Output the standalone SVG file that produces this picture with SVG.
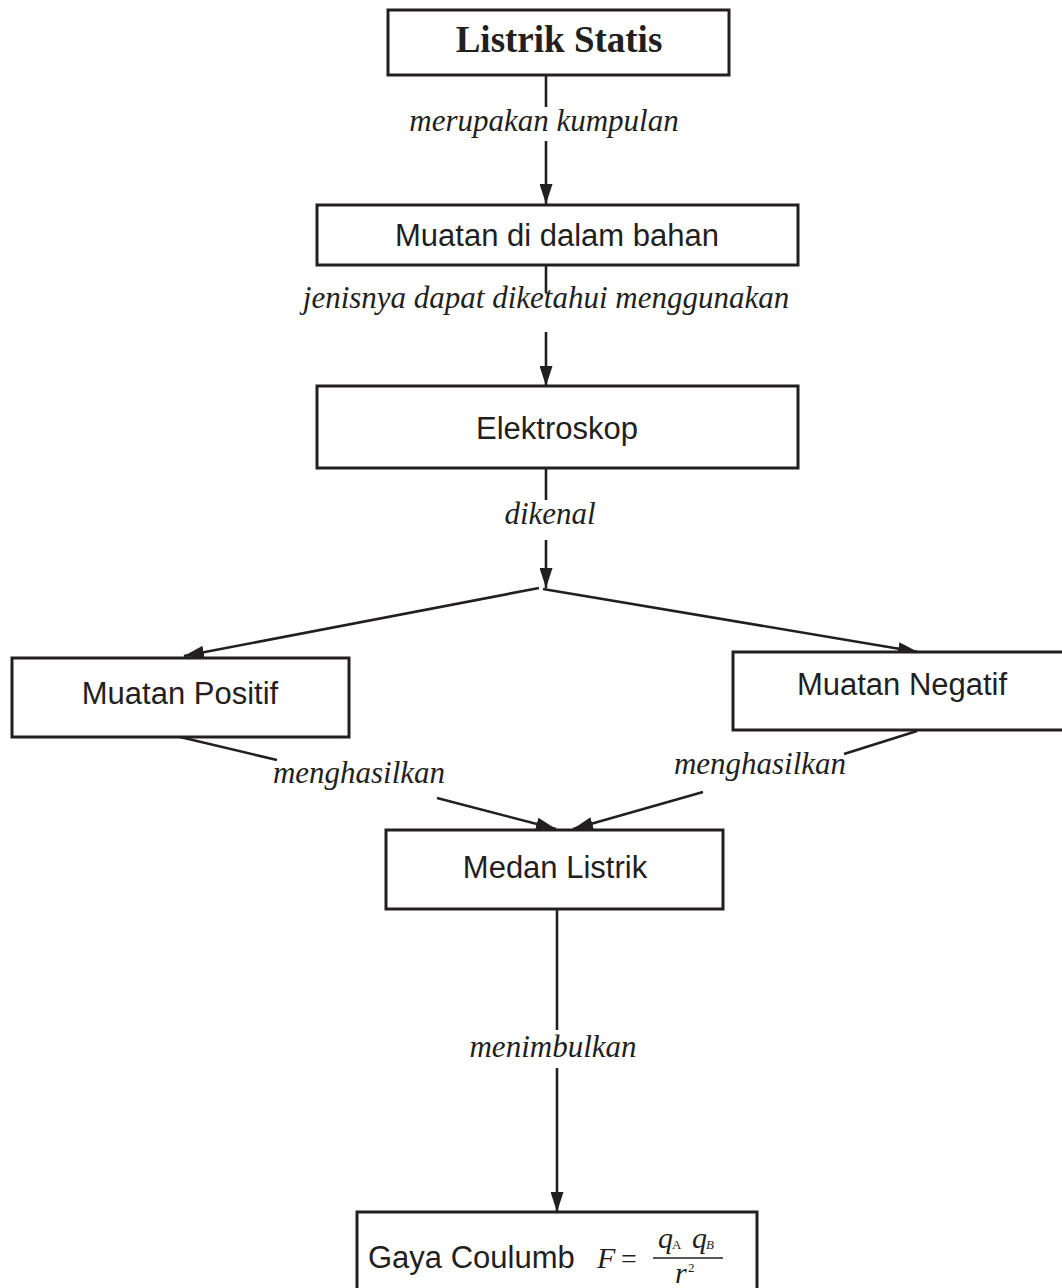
<svg xmlns="http://www.w3.org/2000/svg" width="1062" height="1288" viewBox="0 0 1062 1288">
<style>
.box{fill:#fff;stroke:#231f20;stroke-width:3}
.ln{fill:none;stroke:#231f20;stroke-width:2.6}
.t{font-family:"Liberation Sans",Arial,sans-serif;font-size:31px;fill:#231f20;text-anchor:middle}
.lb{font-family:"Liberation Serif","Times New Roman",serif;font-style:italic;font-size:31px;fill:#231f20;text-anchor:middle}
.ti{font-family:"Liberation Serif","Times New Roman",serif;font-weight:bold;font-size:37px;fill:#231f20;text-anchor:middle}
.m{font-family:"Liberation Serif","Times New Roman",serif;font-style:italic;fill:#231f20}
</style>
<defs>
<marker id="ah" markerWidth="20" markerHeight="13" refX="20" refY="6.5" orient="auto" markerUnits="userSpaceOnUse">
<path d="M0,0 L20,6.5 L0,13 Z" fill="#231f20"/>
</marker>
</defs>
<rect width="1062" height="1288" fill="#fff"/>
<g id="connectors">
<line class="ln" x1="546" y1="75" x2="546" y2="107"/>
<line class="ln" x1="546" y1="141" x2="546" y2="204" marker-end="url(#ah)"/>
<line class="ln" x1="546" y1="265" x2="546" y2="293"/>
<line class="ln" x1="546" y1="332" x2="546" y2="386" marker-end="url(#ah)"/>
<line class="ln" x1="546" y1="468" x2="546" y2="500"/>
<line class="ln" x1="546" y1="540" x2="546" y2="588" marker-end="url(#ah)"/>
<line class="ln" x1="539" y1="588" x2="184" y2="656" marker-end="url(#ah)"/>
<line class="ln" x1="543" y1="589" x2="918" y2="652" marker-end="url(#ah)"/>
<line class="ln" x1="180" y1="737" x2="277" y2="760"/>
<line class="ln" x1="437" y1="798" x2="556" y2="829" marker-end="url(#ah)"/>
<line class="ln" x1="917" y1="731" x2="844" y2="754"/>
<line class="ln" x1="703" y1="792" x2="573" y2="829" marker-end="url(#ah)"/>
<line class="ln" x1="557" y1="909" x2="557" y2="1030"/>
<line class="ln" x1="557" y1="1068" x2="557" y2="1212" marker-end="url(#ah)"/>
<text class="lb" x="544" y="131">merupakan kumpulan</text>
<text class="lb" x="546" y="308">jenisnya dapat diketahui menggunakan</text>
<text class="lb" x="550" y="524">dikenal</text>
<text class="lb" x="359" y="783">menghasilkan</text>
<text class="lb" x="760" y="774">menghasilkan</text>
<text class="lb" x="553" y="1057">menimbulkan</text>
</g>
<g id="listrik-statis">
<rect class="box" x="388" y="10" width="341" height="65"/>
<text class="ti" x="559" y="52">Listrik Statis</text>
</g>
<g id="muatan-bahan">
<rect class="box" x="317" y="205" width="481" height="60"/>
<text class="t" x="557" y="246">Muatan di dalam bahan</text>
</g>
<g id="elektroskop">
<rect class="box" x="317" y="386" width="481" height="82"/>
<text class="t" x="557" y="439">Elektroskop</text>
</g>
<g id="muatan-positif">
<rect class="box" x="12" y="658" width="337" height="79"/>
<text class="t" x="180" y="704">Muatan Positif</text>
</g>
<g id="muatan-negatif">
<rect class="box" x="733" y="652" width="340" height="78"/>
<text class="t" x="902" y="695">Muatan Negatif</text>
</g>
<g id="medan-listrik">
<rect class="box" x="386" y="830" width="337" height="79"/>
<text class="t" x="555" y="878">Medan Listrik</text>
</g>
<g id="gaya-coulumb">
<rect class="box" x="357" y="1212" width="400" height="90"/>
<text class="t" x="368" y="1268" style="text-anchor:start">Gaya Coulumb</text>
<text class="m" x="597" y="1268" font-size="30">F</text>
<text x="621" y="1268" font-family="Liberation Serif,serif" font-size="28" fill="#231f20">=</text>
<line x1="653" y1="1258" x2="723" y2="1258" stroke="#231f20" stroke-width="1.6"/>
<text class="m" x="658" y="1248" font-size="30">q</text>
<text x="672" y="1249" font-family="Liberation Serif,serif" font-size="13" fill="#231f20">A</text>
<text class="m" x="692" y="1248" font-size="30">q</text>
<text class="m" x="706" y="1249" font-size="13">B</text>
<text class="m" x="675" y="1283" font-size="30">r</text>
<text x="688" y="1272" font-family="Liberation Serif,serif" font-size="13" fill="#231f20">2</text>
</g>
</svg>
